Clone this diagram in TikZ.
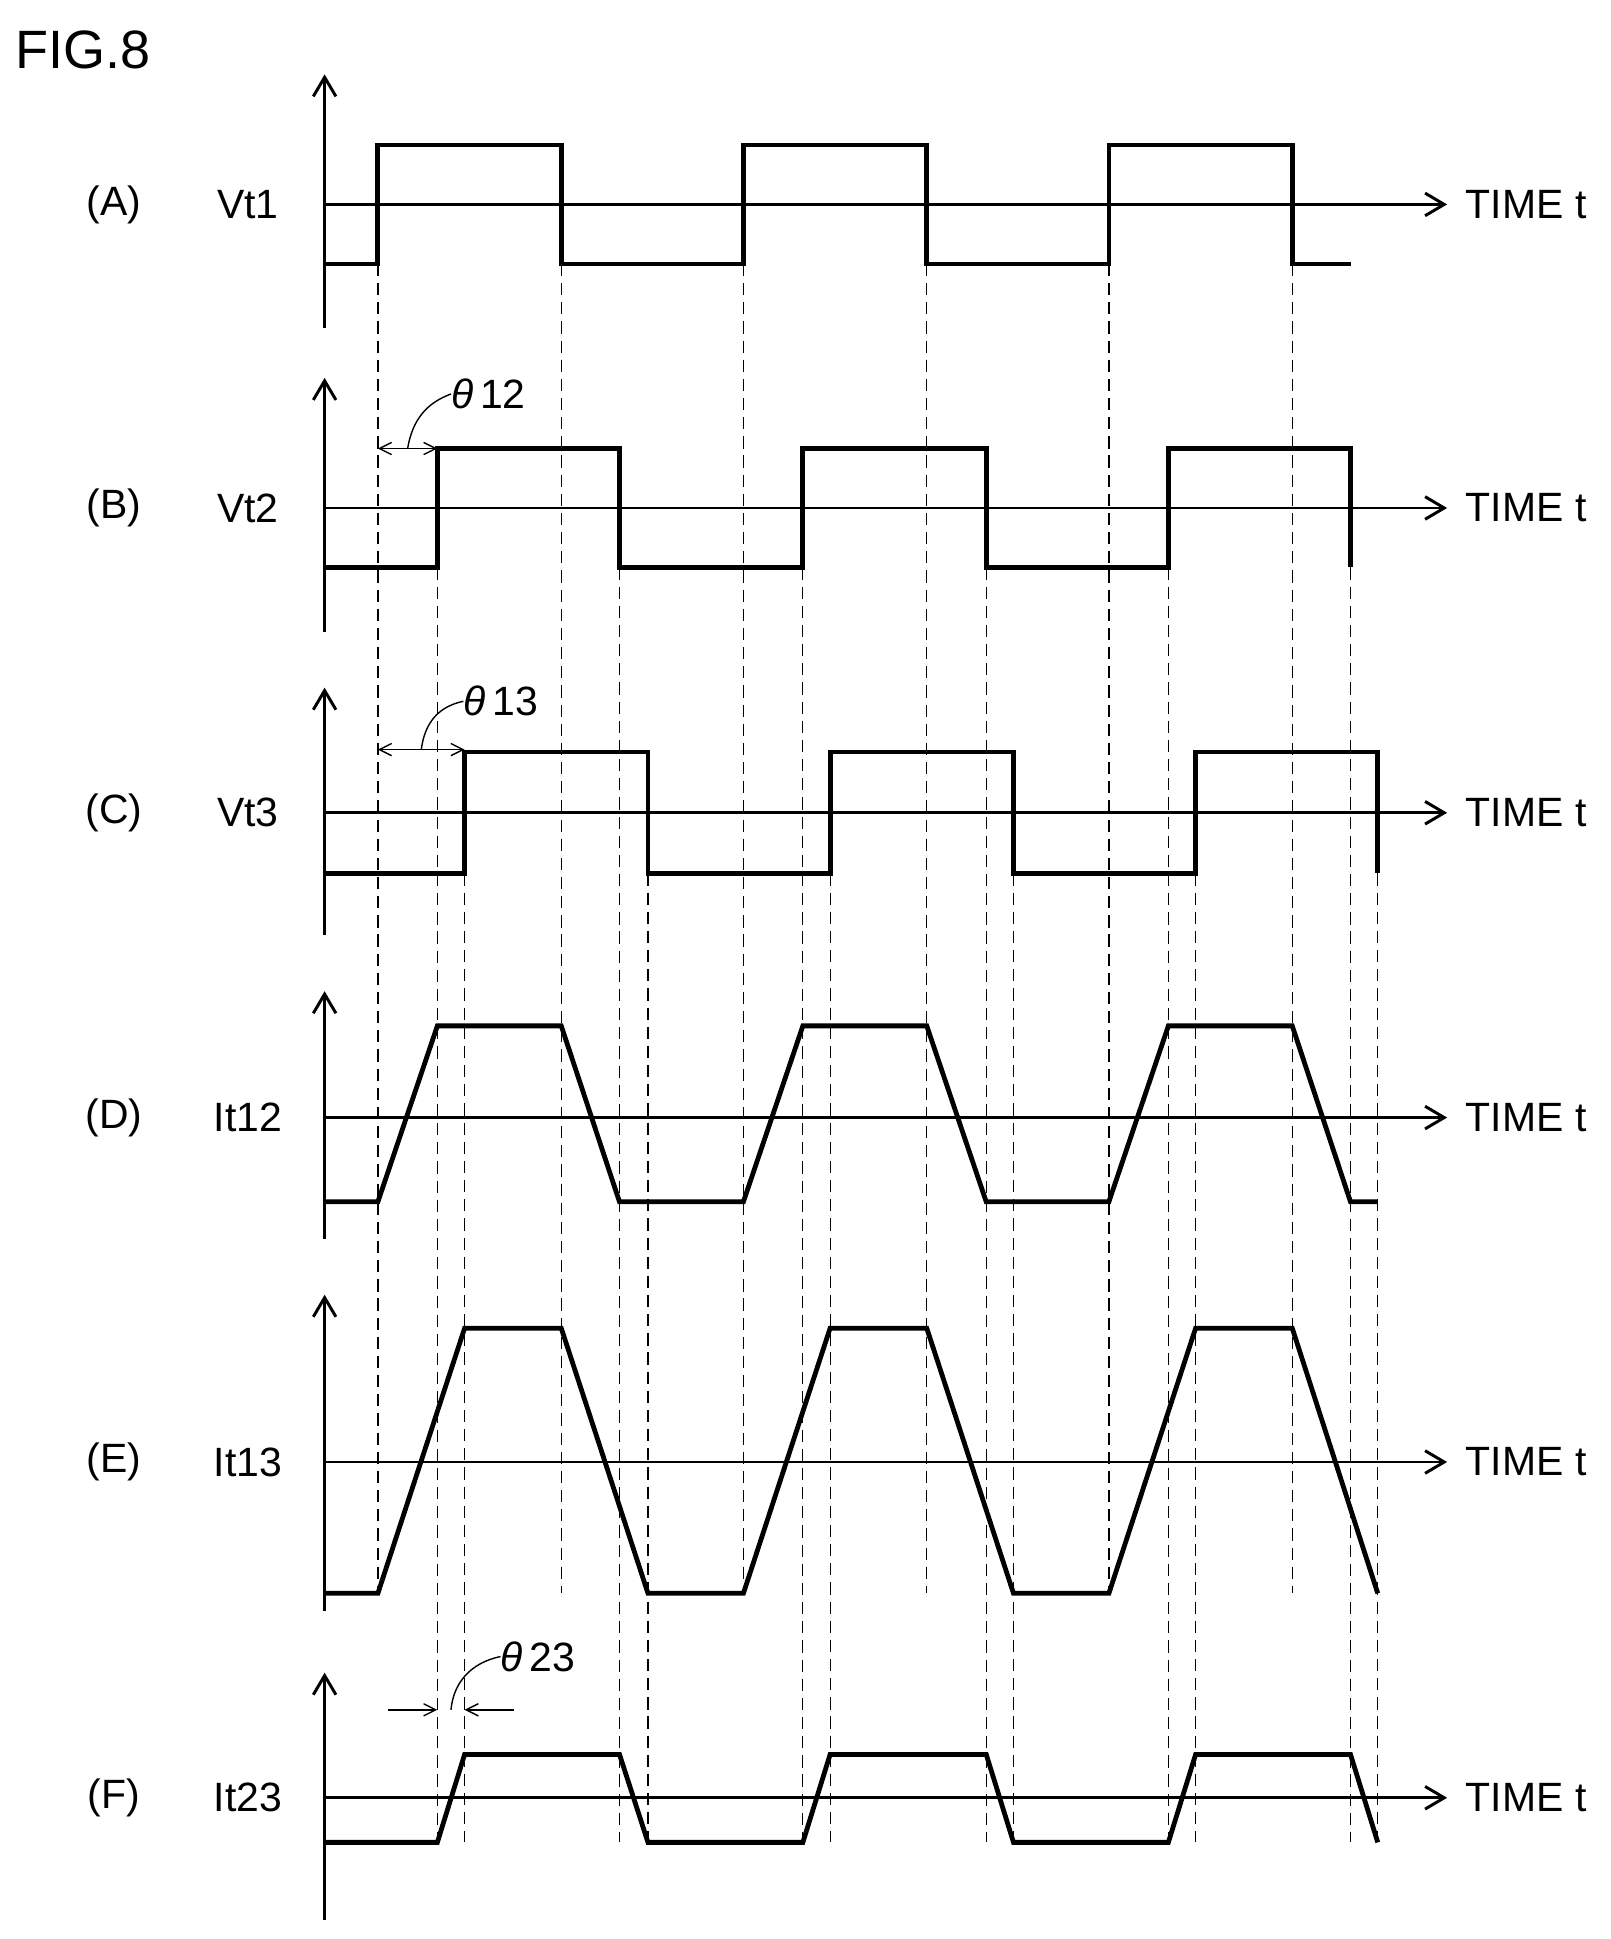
\documentclass[tikz,border=0pt]{standalone}
\usepackage{fontspec}
\setmainfont{Liberation Sans}
\usetikzlibrary{arrows.meta, positioning, calc}

\begin{document}
\begin{tikzpicture}
	[
	x=0.05cm, y=-0.05cm,
	lbl/.style = {font=\fontsize{47}{54}\selectfont, inner sep=0pt},
	wave/.style = {line width=5.5pt, line join=miter},
	axis/.style = {line width=3.4pt, -{Straight Barb[length=22pt,width=26pt]}},
	guide/.style = {line width=1.4pt, dashed, dash pattern=on 14pt off 8pt},
	tip/.style = {line width=1.6pt, {Straight Barb[length=14pt,width=14pt]}-{Straight Barb[length=14pt,width=14pt]}},
	rtip/.style = {line width=1.6pt, -{Straight Barb[length=14pt,width=14pt]}}
	]
	\useasboundingbox (0,0) rectangle (1300,1565);

	\node[lbl, font=\fontsize{62}{70}\selectfont, anchor=west] (fig) at (12,40) {FIG.8};

	% axes and labels
	\foreach \name/\tag/\sig/\ya/\ytop/\ybot in {a/A/Vt1/165/60/265, b/B/Vt2/410/305/510, c/C/Vt3/656/555/755, d/D/It12/902/800/1000, e/E/It13/1180/1045/1300, f/F/It23/1451/1350/1550} {
		\draw[axis] (262,\ybot) -- (262,\ytop);
		\draw[axis] (262,\ya) -- (1168,\ya);
		\node[lbl] (tag\name) at (92,\ya) {(\tag)};
		\node[lbl] (sig\name) at (200,\ya) {\sig};
		\node[lbl, anchor=west] (time\name) at (1183,\ya) {TIME t};
	}

	% dashed guides
	\foreach \x in {305,453,600,748,895,1043} \draw[guide] (\x,213) -- (\x,1286);
	\foreach \x in {353,500,648,796,943,1090} \draw[guide] (\x,458) -- (\x,1487);
	\foreach \x in {375,523,670,818,965,1112} \draw[guide] (\x,705) -- (\x,1487);

	% waves
	\draw[wave] (262,213) -- (305,213) -- (305,117) -- (453,117) -- (453,213) -- (600,213) -- (600,117) -- (748,117) -- (748,213) -- (895,213) -- (895,117) -- (1043,117) -- (1043,213) -- (1090,213);
	\draw[wave] (262,458) -- (353,458) -- (353,362) -- (500,362) -- (500,458) -- (648,458) -- (648,362) -- (796,362) -- (796,458) -- (943,458) -- (943,362) -- (1090,362) -- (1090,458);
	\draw[wave] (262,705) -- (375,705) -- (375,607) -- (523,607) -- (523,705) -- (670,705) -- (670,607) -- (818,607) -- (818,705) -- (965,705) -- (965,607) -- (1112,607) -- (1112,705);
	\draw[wave] (262,970) -- (305,970) -- (353,828) -- (453,828) -- (500,970) -- (600,970) -- (648,828) -- (748,828) -- (796,970) -- (895,970) -- (943,828) -- (1043,828) -- (1090,970) -- (1112,970);
	\draw[wave] (262,1286) -- (305,1286) -- (375,1072) -- (453,1072) -- (523,1286) -- (600,1286) -- (670,1072) -- (748,1072) -- (818,1286) -- (895,1286) -- (965,1072) -- (1043,1072) -- (1112,1286);
	\draw[wave] (262,1487) -- (353,1487) -- (375,1416) -- (500,1416) -- (523,1487) -- (648,1487) -- (670,1416) -- (796,1416) -- (818,1487) -- (943,1487) -- (965,1416) -- (1090,1416) -- (1112,1487);

	% phase marks
	\coordinate (p12a) at (305,362);
	\coordinate (p12b) at (353,362);
	\draw[tip] (p12a) -- (p12b);
	\node[lbl, anchor=west] (th12) at (364,318) {\textit{θ}\,12};
	\draw[line width=1.6pt] (329,362) .. controls (333,338) and (345,325) .. (th12.west);

	\coordinate (p13a) at (305,605);
	\coordinate (p13b) at (375,605);
	\draw[tip] (p13a) -- (p13b);
	\node[lbl, anchor=west] (th13) at (374,566) {\textit{θ}\,13};
	\draw[line width=1.6pt] (340,605) .. controls (343,582) and (355,570) .. (th13.west);

	\coordinate (p23a) at (353,1380);
	\coordinate (p23b) at (375,1380);
	\draw[rtip] (313,1380) -- (p23a);
	\draw[rtip] (415,1380) -- (p23b);
	\node[lbl, anchor=west] (th23) at (404,1337) {\textit{θ}\,23};
	\draw[line width=1.6pt] (364,1380) .. controls (366,1358) and (380,1342) .. (th23.west);
\end{tikzpicture}
\end{document}
